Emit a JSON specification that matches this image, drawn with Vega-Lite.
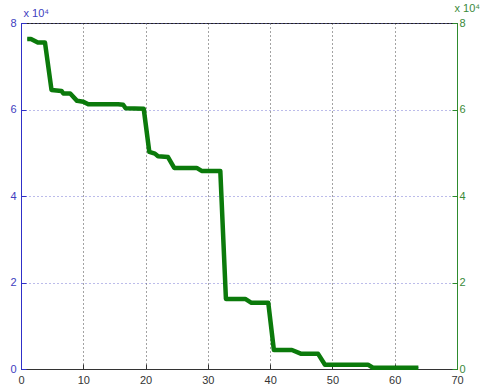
{
  "$schema": "https://vega.github.io/schema/vega-lite/v6.json",
  "width": 436,
  "height": 346,
  "autosize": {"type": "none"},
  "padding": {"left": 21, "top": 23, "right": 23, "bottom": 20},
  "background": "white",
  "config": {
    "view": {"stroke": "#222222", "strokeWidth": 1},
    "font": "Liberation Sans",
    "axis": {"labelFont": "Liberation Sans", "labelFontSize": 11, "titleFont": "Liberation Sans", "titleFontWeight": "normal", "titleFontSize": 11}
  },
  "data": {
    "values": [
      {"t": 1.0, "v": 76300}, {"t": 1.6, "v": 76300}, {"t": 2.7, "v": 75500}, {"t": 3.85, "v": 75500},
      {"t": 4.9, "v": 64500}, {"t": 6.5, "v": 64300}, {"t": 6.8, "v": 63700}, {"t": 7.9, "v": 63700},
      {"t": 9.0, "v": 62000}, {"t": 10.0, "v": 61800}, {"t": 10.8, "v": 61200}, {"t": 15.6, "v": 61200},
      {"t": 16.4, "v": 61100}, {"t": 16.8, "v": 60300}, {"t": 19.7, "v": 60200}, {"t": 20.6, "v": 50200},
      {"t": 21.5, "v": 49800}, {"t": 22.0, "v": 49200}, {"t": 23.6, "v": 49000}, {"t": 24.6, "v": 46500},
      {"t": 28.2, "v": 46500}, {"t": 29.0, "v": 45800}, {"t": 32.0, "v": 45800}, {"t": 32.9, "v": 16200},
      {"t": 36.0, "v": 16200}, {"t": 37.0, "v": 15300}, {"t": 39.7, "v": 15300}, {"t": 40.6, "v": 4400},
      {"t": 43.5, "v": 4400}, {"t": 45.0, "v": 3500}, {"t": 47.7, "v": 3500}, {"t": 48.8, "v": 1000},
      {"t": 55.7, "v": 1000}, {"t": 56.5, "v": 300}, {"t": 63.8, "v": 300}
    ]
  },
  "encoding": {
    "x": {
      "field": "t", "type": "quantitative",
      "scale": {"domain": [0, 70], "nice": false},
      "axis": {
        "values": [0, 10, 20, 30, 40, 50, 60, 70],
        "title": null, "grid": true, "gridColor": "#333333", "gridDash": [1, 3], "gridOpacity": 0.9,
        "domainColor": "#333333", "tickColor": "#333333", "tickSize": -5, "labelPadding": 10,
        "labelColor": "#333333", "labelFlush": false
      }
    }
  },
  "layer": [
    {
      "mark": {"type": "line", "color": "#2a2acc", "strokeWidth": 1},
      "encoding": {
        "y": {
          "field": "v", "type": "quantitative",
          "scale": {"domain": [0, 80000], "nice": false},
          "axis": {
            "orient": "left",
            "values": [0, 20000, 40000, 60000, 80000],
            "labelExpr": "datum.value / 10000",
            "grid": true, "gridColor": "#6a6ad0", "gridDash": [1, 3], "gridOpacity": 0.9,
            "domainColor": "#3030c8", "tickColor": "#3030c8", "labelColor": "#4040c0",
            "tickSize": -5, "labelPadding": 10, "labelFlush": false,
            "title": "x 10⁴", "titleColor": "#4040c0", "titleAngle": 0,
            "titleAlign": "left", "titleBaseline": "bottom", "titleX": 2, "titleY": -5
          }
        }
      }
    },
    {
      "mark": {"type": "line", "color": "#0b7a0b", "strokeWidth": 4.5, "strokeJoin": "round", "strokeCap": "butt"},
      "encoding": {
        "y": {
          "field": "v", "type": "quantitative",
          "axis": {
            "orient": "right",
            "values": [0, 20000, 40000, 60000, 80000],
            "labelExpr": "datum.value / 10000",
            "grid": false,
            "domainColor": "#2e8b2e", "tickColor": "#2e8b2e", "labelColor": "#3a8a3a",
            "tickSize": -5, "labelPadding": 7, "labelFlush": false,
            "title": "x 10⁴", "titleColor": "#3a8a3a", "titleAngle": 0,
            "titleAlign": "left", "titleBaseline": "bottom", "titleX": -3, "titleY": -10
          }
        }
      }
    }
  ],
  "resolve": {"axis": {"y": "independent"}}
}
